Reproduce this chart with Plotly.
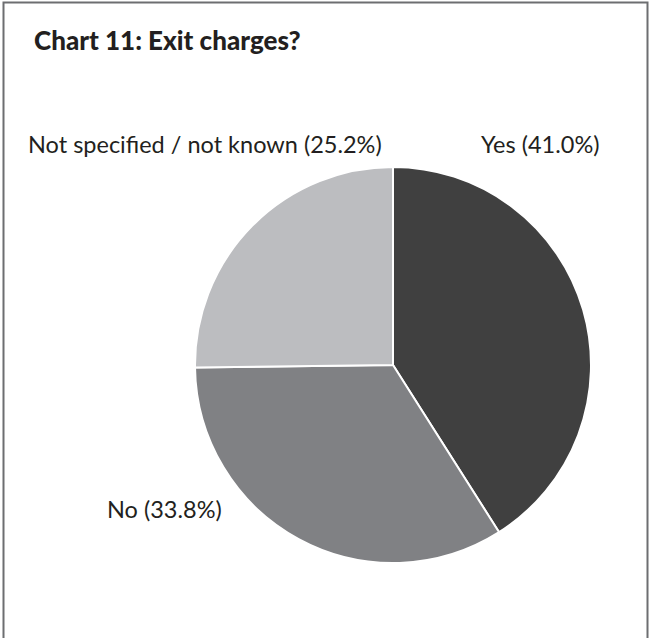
import plotly.graph_objects as go

categories = ["Yes", "No", "Not specified / not known"]
values = [41.0, 33.8, 25.2]
colors = ["#404040", "#808184", "#bcbdc0"]

W, H = 649, 638

def px(x):
    return x / W

def py(y):
    return 1 - y / H

cx, cy, r = 393, 365, 198

fig = go.Figure(go.Pie(
    labels=categories,
    values=values,
    sort=False,
    direction="clockwise",
    rotation=0,
    marker=dict(colors=colors, line=dict(color="white", width=2)),
    textinfo="none",
    hoverinfo="label+percent",
    showlegend=False,
    domain=dict(x=[px(cx - r), px(cx + r)], y=[py(cy + r), py(cy - r)]),
))

font = "Lato, 'Open Sans', sans-serif"
label_pos = {
    "Yes": (479, 144),
    "No": (105, 509),
    "Not specified / not known": (26, 144),
}
annotations = []
for cat, v in zip(categories, values):
    x, y = label_pos[cat]
    annotations.append(dict(
        x=px(x), y=py(y), xref="paper", yref="paper",
        xanchor="left", yanchor="middle", showarrow=False,
        text=f"{cat} ({v:.1f}%)",
        font=dict(family=font, size=23.5, color="#231f20"),
    ))
annotations.append(dict(
    x=px(32), y=py(40), xref="paper", yref="paper",
    xanchor="left", yanchor="middle", showarrow=False,
    text="Chart 11: Exit charges?",
    font=dict(family=font, size=26, color="#231f20", weight=900),
))

fig.update_layout(
    width=W, height=H,
    margin=dict(l=0, r=0, t=0, b=0),
    paper_bgcolor="white",
    plot_bgcolor="white",
    annotations=annotations,
    shapes=[dict(type="rect", xref="paper", yref="paper",
                 x0=px(3.5), x1=px(647.5), y0=-0.05, y1=py(2.5),
                 line=dict(color="#6d6e71", width=2), fillcolor="rgba(0,0,0,0)")],
)

fig.write_html("out.html")
